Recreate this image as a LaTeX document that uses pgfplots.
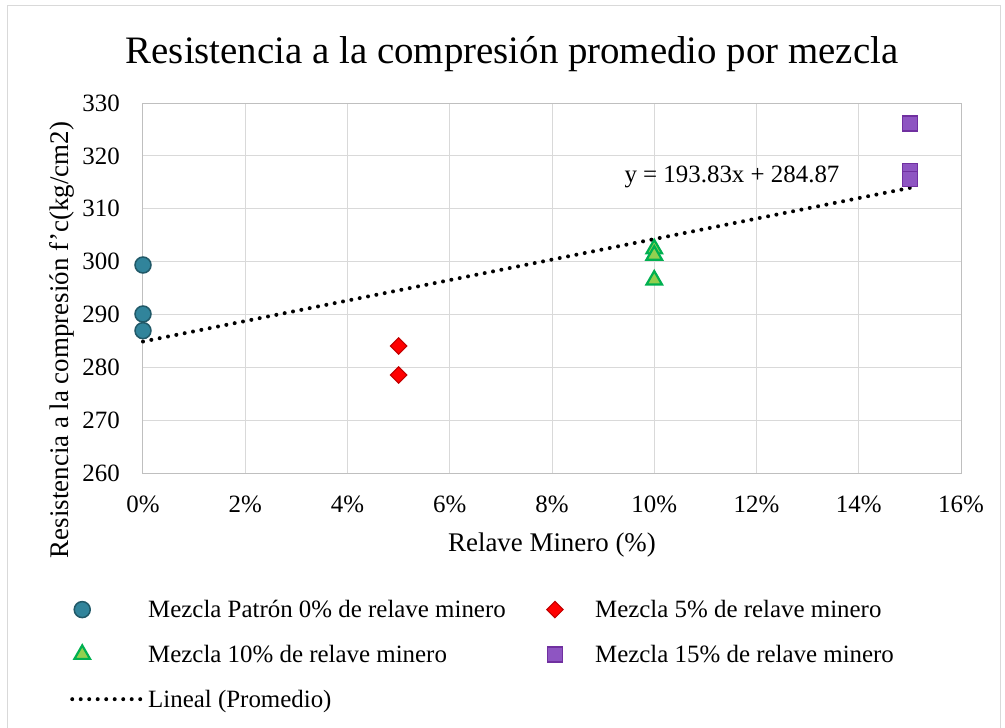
\documentclass[border=0pt]{standalone}
\usepackage{fontspec}
\setmainfont{Liberation Serif}
\usepackage{pgfplots}
\pgfplotsset{compat=1.18}
\definecolor{gridc}{HTML}{D9D9D9}
\definecolor{axisc}{HTML}{BFBFBF}
\definecolor{framec}{HTML}{D9D9D9}
\definecolor{cfill}{HTML}{31849B}
\definecolor{cdraw}{HTML}{215968}
\definecolor{dfill}{HTML}{FF0000}
\definecolor{ddraw}{HTML}{C00000}
\definecolor{tfill}{HTML}{92D050}
\definecolor{tdraw}{HTML}{00B050}
\definecolor{sfill}{HTML}{8E55C2}
\definecolor{sdraw}{HTML}{7030A0}
\newcommand{\tf}{\fontsize{25}{30}\selectfont}
\newcommand{\lf}{\fontsize{27}{32}\selectfont}
\pgfplotsset{
  mkimg/.style={legend image code/.code={\draw[mark repeat=2,mark phase=2,##1,only marks] plot coordinates {(0bp,0bp)(10bp,0bp)(20bp,0bp)};}},
  mkimgw/.style={legend image code/.code={\draw[mark repeat=2,mark phase=2,##1,only marks] plot coordinates {(0bp,0bp)(10bp,0bp)(20bp,0bp)}; \path (49bp,0bp);}},
  lnimg/.style={legend image code/.code={\draw[##1] (0bp,0bp) -- (73bp,0bp);}},
}
\begin{document}
\begin{tikzpicture}
\useasboundingbox (-143bp,-255bp) rectangle (862bp,473bp);
\draw[framec, line width=1bp] (-135bp,-262bp) -- (-135bp,467bp) -- (857bp,467bp) -- (857bp,-262bp);
\begin{axis}[
  at={(0bp,0bp)}, anchor=south west,
  scale only axis, width=818bp, height=370bp,
  xmin=0, xmax=16, ymin=260, ymax=330,
  xtick={0,2,...,16}, ytick={260,270,...,330},
  xticklabel={\pgfmathprintnumber{\tick}\%},
  /pgf/number format/assume math mode=true,
  grid=major, major grid style={draw=gridc, line width=1bp},
  axis line style={draw=axisc, line width=1bp},
  major tick length=0pt, tick style={draw=none},
  ticklabel style={font=\tf},
  xticklabel style={inner sep=0pt, anchor=north, yshift=-23bp},
  yticklabel style={inner sep=0pt, anchor=east, xshift=-23bp},
  clip=false,
  title={Resistencia a la compresión promedio por mezcla},
  title style={font=\fontsize{39}{45}\selectfont, at={(axis description cs:0.4511,1.117)}, anchor=center},
  xlabel={Relave Minero (\%)},
  xlabel style={font=\lf, at={(axis description cs:0.5,-0.1946)}, anchor=center},
  ylabel={Resistencia a la compresión f'c(kg/cm2)},
  ylabel style={font=\lf, at={(axis description cs:-0.099,0.3595)}, anchor=center},
  legend columns=2,
  legend cell align=left,
  legend style={draw=none, fill=none, font=\tf,
    at={(axis description cs:-0.0892,-0.3351)}, anchor=north west,
    inner sep=0pt, row sep=20bp,
    nodes={inner sep=3bp},
    /tikz/every odd column/.append style={column sep=-2bp},
    /tikz/every even column/.append style={column sep=38bp}},
]
\addplot[only marks, mark=*, mark size=8bp, mark options={fill=cfill, draw=cdraw, line width=1.5bp}, mkimg]
  coordinates {(0,299.35) (0,290.08) (0,286.93)};
\addlegendentry{Mezcla Patrón 0\% de relave minero}
\addplot[only marks, mark=square*, mark size=5.8bp, mark options={rotate=45, fill=dfill, draw=ddraw, line width=1bp}, mkimgw]
  coordinates {(5,284.03) (5,278.54)};
\addlegendentry{Mezcla 5\% de relave minero}
\addplot[only marks, mark=triangle*, mark size=9bp, mark options={fill=tfill, draw=tdraw, line width=2.2bp}, mkimg]
  coordinates {(10,302.4) (10,301.2) (10,296.5)};
\addlegendentry{Mezcla 10\% de relave minero}
\addplot[only marks, mark=square*, mark size=7.5bp, mark options={fill=sfill, draw=sdraw, line width=1.5bp}, mkimgw]
  coordinates {(15,326.1) (15,317.1) (15,315.6)};
\addlegendentry{Mezcla 15\% de relave minero}
\addplot[black, line width=4bp, line cap=round, dash pattern=on 0bp off 8.5bp, lnimg]
  coordinates {(0,284.87) (15,313.945)};
\addlegendentry{Lineal (Promedio)}
\node[font=\tf, anchor=center] at (axis cs:11.52,316.0) {y = 193.83x + 284.87};
\end{axis}
\end{tikzpicture}
\end{document}
